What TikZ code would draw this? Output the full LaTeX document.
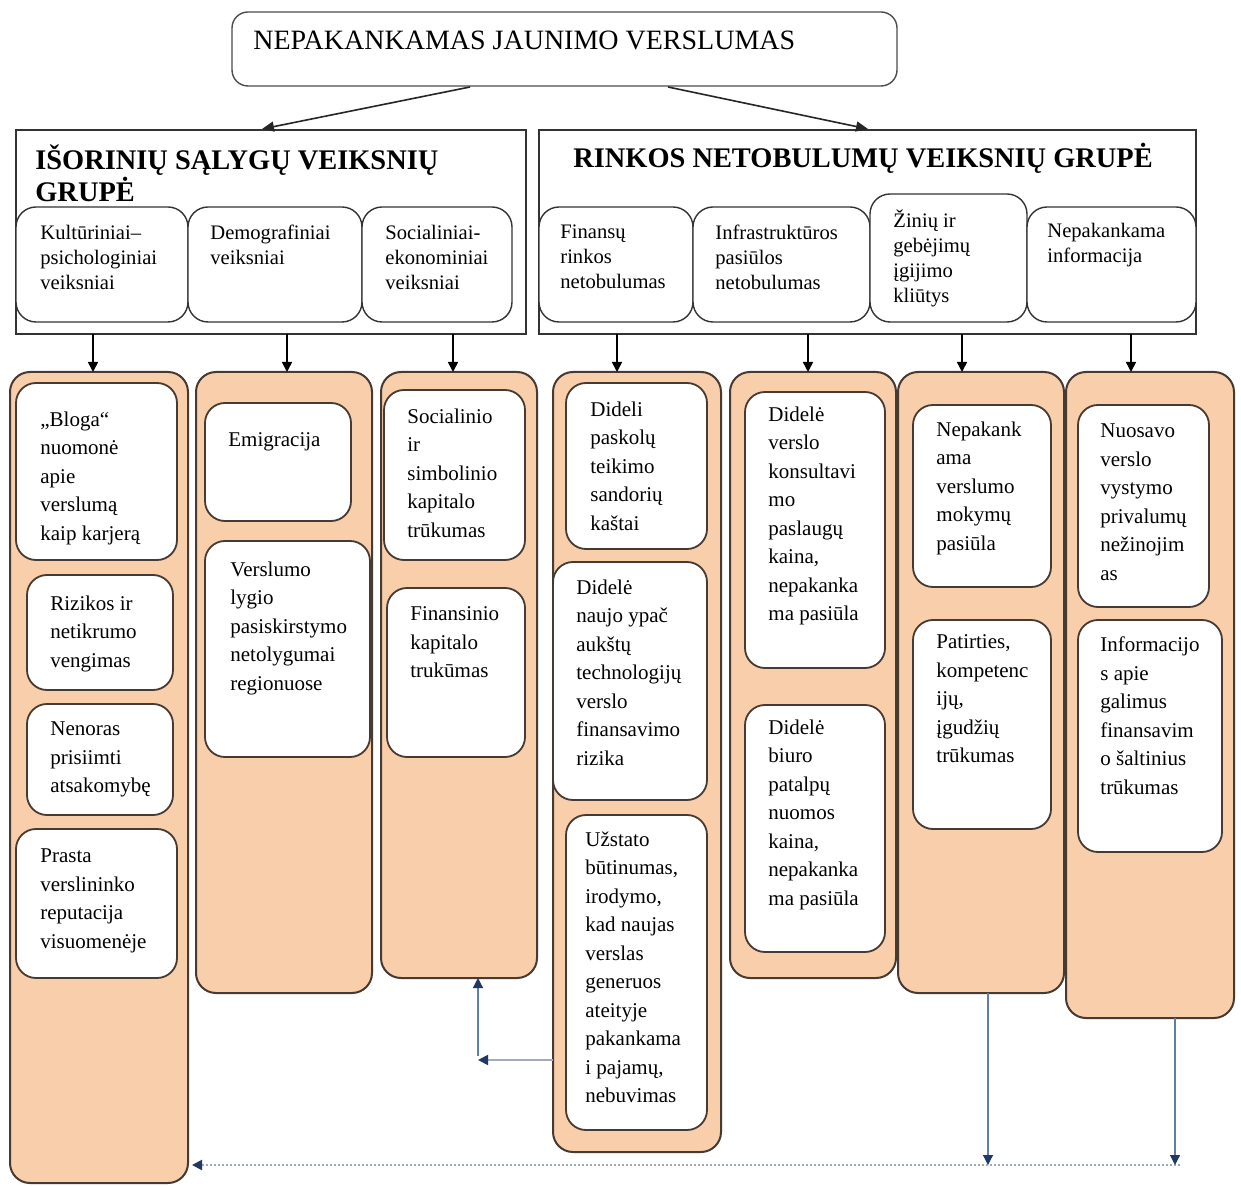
\documentclass[tikz,border=0pt]{standalone}
\usepackage{fontspec}
\setmainfont{Liberation Serif}
\usetikzlibrary{arrows.meta,fit,calc}
\definecolor{peach}{RGB}{249,206,170}
\definecolor{edge}{RGB}{70,58,50}
\definecolor{navy}{RGB}{31,56,100}
\definecolor{lblue}{RGB}{95,125,175}
\definecolor{lgray}{RGB}{160,170,185}
\begin{document}
\begin{tikzpicture}[x=0.5pt,y=-0.5pt,
  colbox/.style={draw=edge, fill=peach, line width=1pt, rounded corners=10pt, inner sep=0pt, outer sep=0pt},
  inbox/.style={draw=edge, fill=white, line width=0.9pt, rounded corners=10pt, inner sep=0pt, outer sep=0pt},
  subbox/.style={draw=black!80, fill=white, line width=0.7pt, rounded corners=10pt, inner sep=0pt, outer sep=0pt},
  hdrbox/.style={draw=black!80, line width=0.9pt, inner sep=0pt, outer sep=0pt},
  titlebox/.style={draw=black!70, line width=0.7pt, rounded corners=8pt, inner sep=0pt, outer sep=0pt},
  itext/.style={anchor=north west, yshift=6.8pt, execute at begin node=\strut, align=left, inner sep=0pt, font=\fontsize{10.5}{14.25}\selectfont},
  stext/.style={anchor=north west, yshift=6.75pt, execute at begin node=\strut, align=left, inner sep=0pt, font=\fontsize{10.3}{12.5}\selectfont},
  htext/.style={anchor=north west, yshift=12.7pt, execute at begin node=\strut, align=left, inner sep=0pt, font=\bfseries\fontsize{14.2}{16}\selectfont},
  ttext/.style={anchor=base west, inner sep=0pt, font=\fontsize{14}{16}\selectfont},
  tarr/.style={draw=black!85, line width=0.8pt, -{Triangle[length=6pt,width=5pt]}},
  darr/.style={draw=black, line width=0.8pt, -{Triangle[length=5pt,width=5pt]}},
  bline/.style={draw=lgray, line width=0.9pt, -{Triangle[length=5pt,width=5pt,color=navy]}},
  vline/.style={draw=lblue, line width=0.6pt, -{Triangle[length=5pt,width=5pt,color=navy]}},
  dotline/.style={draw=lgray, line width=1pt, densely dotted, -{Triangle[length=5pt,width=5pt,color=navy]}}
]
\fill[white] (0,0) rectangle (1241,1186);
\useasboundingbox (0,0) rectangle (1241,1186);

% title
\node[titlebox, fit={(232,12) (897,86)}] (title) {};
\node[ttext] (ttitle) at (253,50) {NEPAKANKAMAS JAUNIMO VERSLUMAS};

% header groups
\node[hdrbox, fit={(16,130) (526,334)}] (hl) {};
\node[hdrbox, fit={(539,130) (1196,334)}] (hr) {};
\node[htext] (thl) at (35,170) {IŠORINIŲ SĄLYGŲ VEIKSNIŲ\\GRUPĖ};
\node[htext] (thr) at (573,168) {RINKOS NETOBULUMŲ VEIKSNIŲ GRUPĖ};

% sub boxes
\node[subbox, fit={(16,207) (188,322)}] (sK) {};
\node[subbox, fit={(188,207) (362,322)}] (sD) {};
\node[subbox, fit={(362,207) (512,322)}] (sS) {};
\node[subbox, fit={(539,207) (693,322)}] (sF) {};
\node[subbox, fit={(693,207) (870,322)}] (sI) {};
\node[subbox, fit={(870,194) (1027,322)}] (sZ) {};
\node[subbox, fit={(1027,207) (1196,322)}] (sN) {};
\node[stext] (tK) at (40,238) {Kultūriniai–\\psichologiniai\\veiksniai};
\node[stext] (tD) at (210,238) {Demografiniai\\veiksniai};
\node[stext] (tS) at (385,238) {Socialiniai-\\ekonominiai\\veiksniai};
\node[stext] (tF) at (560,238) {Finansų\\rinkos\\netobulumas};
\node[stext] (tI) at (715,238) {Infrastruktūros\\pasiūlos\\netobulumas};
\node[stext] (tZ) at (893,223) {Žinių ir\\gebėjimų\\įgijimo\\kliūtys};
\node[stext] (tN) at (1047,236) {Nepakankama\\informacija};

% columns
\node[colbox, fit={(10,372) (188,1183)}] (c1) {};
\node[colbox, fit={(196,372) (372,993)}] (c2) {};
\node[colbox, fit={(381,372) (537,978)}] (c3) {};
\node[colbox, fit={(553,372) (721,1152)}] (c4) {};
\node[colbox, fit={(730,372) (896,978)}] (c5) {};
\node[colbox, fit={(898,372) (1064,993)}] (c6) {};
\node[colbox, fit={(1066,372) (1234,1018)}] (c7) {};

% inner boxes
\node[inbox, fit={(16,383) (177,560)}] (b11) {};
\node[inbox, fit={(27,575) (173,690)}] (b12) {};
\node[inbox, fit={(27,704) (173,815)}] (b13) {};
\node[inbox, fit={(16,829) (177,978)}] (b14) {};
\node[inbox, fit={(205,403) (351,521)}] (b21) {};
\node[inbox, fit={(205,541) (370,757)}] (b22) {};
\node[inbox, fit={(384,390) (525,560)}] (b31) {};
\node[inbox, fit={(387,588) (525,757)}] (b32) {};
\node[inbox, fit={(566,383) (707,549)}] (b41) {};
\node[inbox, fit={(553,562) (707,800)}] (b42) {};
\node[inbox, fit={(566,815) (707,1130)}] (b43) {};
\node[inbox, fit={(745,392) (885,668)}] (b51) {};
\node[inbox, fit={(745,705) (885,952)}] (b52) {};
\node[inbox, fit={(913,405) (1051,587)}] (b61) {};
\node[inbox, fit={(913,620) (1051,829)}] (b62) {};
\node[inbox, fit={(1078,405) (1209,607)}] (b71) {};
\node[inbox, fit={(1078,620) (1222,852)}] (b72) {};

% inner texts
\node[itext] (t11) at (40,425) {„Bloga“\\nuomonė\\apie\\verslumą\\kaip karjerą};
\node[itext] (t12) at (50,609) {Rizikos ir\\netikrumo\\vengimas};
\node[itext] (t13) at (50,735) {Nenoras\\prisiimti\\atsakomybę};
\node[itext] (t14) at (40,862) {Prasta\\verslininko\\reputacija\\visuomenėje};
\node[itext] (t21) at (228,440) {Emigracija};
\node[itext] (t22) at (230,575) {Verslumo\\lygio\\pasiskirstymo\\netolygumai\\regionuose};
\node[itext] (t31) at (407,422) {Socialinio\\ir\\simbolinio\\kapitalo\\trūkumas};
\node[itext] (t32) at (410,620) {Finansinio\\kapitalo\\trukūmas};
\node[itext] (t41) at (590,415) {Dideli\\paskolų\\teikimo\\sandorių\\kaštai};
\node[itext] (t42) at (576,593) {Didelė\\naujo ypač\\aukštų\\technologijų\\verslo\\finansavimo\\rizika};
\node[itext] (t43) at (585,845) {Užstato\\būtinumas,\\irodymo,\\kad naujas\\verslas\\generuos\\ateityje\\pakankama\\i pajamų,\\nebuvimas};
\node[itext] (t51) at (768,420) {Didelė\\verslo\\konsultavi\\mo\\paslaugų\\kaina,\\nepakanka\\ma pasiūla};
\node[itext] (t52) at (768,733) {Didelė\\biuro\\patalpų\\nuomos\\kaina,\\nepakanka\\ma pasiūla};
\node[itext] (t61) at (936,435) {Nepakank\\ama\\verslumo\\mokymų\\pasiūla};
\node[itext] (t62) at (936,648) {Patirties,\\kompetenc\\ijų,\\įgudžių\\trūkumas};
\node[itext] (t71) at (1100,437) {Nuosavo\\verslo\\vystymo\\privalumų\\nežinojim\\as};
\node[itext] (t72) at (1100,650) {Informacijo\\s apie\\galimus\\finansavim\\o šaltinius\\trūkumas};

% arrows from title
\draw[tarr] ($(title.south)+(-94.5,1)$) -- ($(hl.north)+(-9,-1)$);
\draw[tarr] ($(title.south)+(103.5,1)$) -- ($(hr.north)+(0.5,-1)$);

% down arrows
\coordinate (k1) at (93,0);
\coordinate (k2) at (287,0);
\coordinate (k3) at (453,0);
\coordinate (k4) at (617,0);
\coordinate (k5) at (808,0);
\coordinate (k6) at (962,0);
\coordinate (k7) at (1131,0);
\draw[darr] (k1 |- hl.south) -- (k1 |- c1.north);
\draw[darr] (k2 |- hl.south) -- (k2 |- c2.north);
\draw[darr] (k3 |- hl.south) -- (k3 |- c3.north);
\draw[darr] (k4 |- hr.south) -- (k4 |- c4.north);
\draw[darr] (k5 |- hr.south) -- (k5 |- c5.north);
\draw[darr] (k6 |- hr.south) -- (k6 |- c6.north);
\draw[darr] (k7 |- hr.south) -- (k7 |- c7.north);

% blue connectors
\coordinate (bend) at (478,1060);
\draw[bline] (bend -| c4.west) -- (bend);
\draw[vline] ($(bend)+(0,-4)$) -- (bend |- c3.south);

\coordinate (bot) at (1180,1165);
\coordinate (v6) at (988,0);
\coordinate (v7) at (1175,0);
\draw[dotline, shorten >=2pt] (bot) -- (bot -| c1.east);
\draw[vline] (v6 |- c6.south) -- (v6 |- bot);
\draw[vline] (v7 |- c7.south) -- (v7 |- bot);
\end{tikzpicture}
\end{document}
